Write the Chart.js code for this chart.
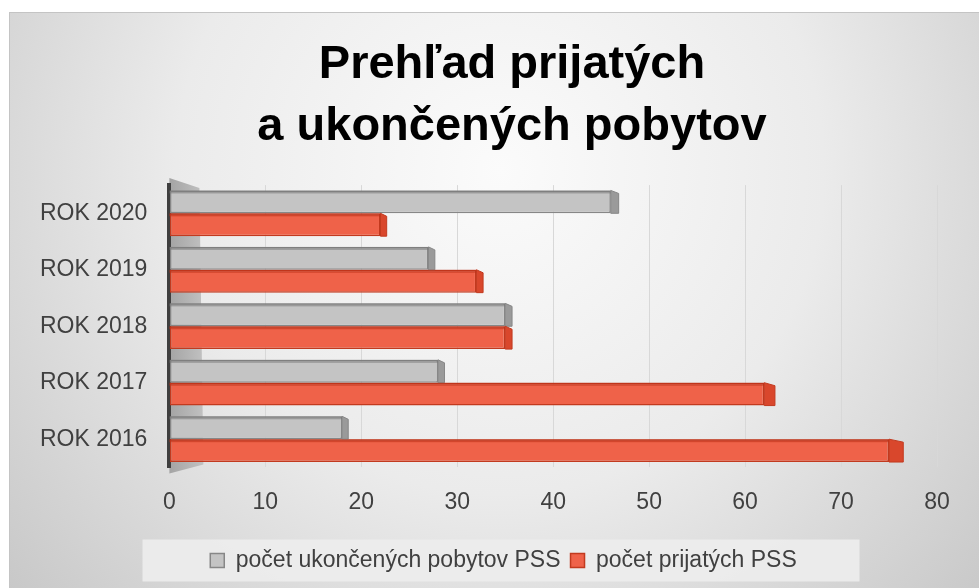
<!DOCTYPE html>
<html><head><meta charset="utf-8">
<script src="https://cdn.jsdelivr.net/npm/chart.js@4/dist/chart.umd.min.js"></script>
<style>html,body{margin:0;padding:0;background:#fff;overflow:hidden}canvas{display:block}</style>
</head><body>
<canvas id="c" width="979" height="588"></canvas>
<script>
const categories = ['ROK 2016', 'ROK 2017', 'ROK 2018', 'ROK 2019', 'ROK 2020'];
const ukoncenePobyty = [18, 28, 35, 27, 46];
const prijatePSS = [75, 62, 35, 32, 22];
const seriesNames = ['počet ukončených pobytov PSS', 'počet prijatých PSS'];
const titleLines = ['Prehľad prijatých', 'a ukončených pobytov'];
const xTickValues = [0, 10, 20, 30, 40, 50, 60, 70, 80];

const FONT = "'Liberation Sans', Arial, sans-serif";

const shiftPlugin = {
  id: 'shift',
  afterLayout(chart) {
    if (chart.titleBlock) { chart.titleBlock.left += 69; }
    if (chart.legend) { chart.legend.left += 52; }
  }
};

const bgPlugin = {
  id: 'bg',
  beforeDraw(chart) {
    const ctx = chart.ctx;
    ctx.save();
    ctx.fillStyle = '#fff';
    ctx.fillRect(0, 0, chart.width, chart.height);
    const g = ctx.createRadialGradient(500, 170, 0, 500, 170, 720);
    g.addColorStop(0, '#fbfbfb');
    g.addColorStop(0.45, '#ebebeb');
    g.addColorStop(1, '#c0c0c0');
    ctx.fillStyle = g;
    ctx.fillRect(9, 12, chart.width - 9, chart.height - 12);
    ctx.strokeStyle = '#c4c4c4';
    ctx.lineWidth = 1;
    ctx.strokeRect(9.5, 12.5, chart.width, chart.height);
    const lg = chart.legend;
    if (lg && lg.legendHitBoxes && lg.legendHitBoxes.length) {
      const hb = lg.legendHitBoxes;
      const last = hb[hb.length - 1];
      const cx = (hb[0].left + last.left + last.width) / 2;
      const cy = hb[0].top + hb[0].height / 2;
      ctx.fillStyle = 'rgba(236,236,236,0.95)';
      ctx.fillRect(cx - 361, cy - 21, 717, 42);
    }
    const a = chart.chartArea;
    const wg = ctx.createLinearGradient(a.left, 0, a.left + 35, 0);
    wg.addColorStop(0, '#a4a4a4');
    wg.addColorStop(1, '#c2c2c2');
    ctx.fillStyle = wg;
    ctx.beginPath();
    ctx.moveTo(a.left, a.top - 7);
    ctx.lineTo(a.left + 30, a.top + 3);
    ctx.lineTo(a.left + 34, a.bottom - 3);
    ctx.lineTo(a.left, a.bottom + 6);
    ctx.closePath();
    ctx.fill();
    ctx.restore();
  }
};

const depthPlugin = {
  id: 'depth',
  afterDatasetsDraw(chart) {
    const ctx = chart.ctx, a = chart.chartArea;
    ctx.save();
    chart.data.datasets.forEach((ds, i) => {
      const meta = chart.getDatasetMeta(i);
      meta.data.forEach(bar => {
        const p = bar.getProps(['x', 'y', 'height'], true);
        const top = p.y - p.height / 2, bot = p.y + p.height / 2;
        const f = (p.x - a.left) / (a.right - a.left);
        const s = 6 + 10 * f * f * f;
        ctx.fillStyle = ds.sideColor;
        ctx.beginPath();
        ctx.moveTo(p.x, top);
        ctx.lineTo(p.x + s, top + 3);
        ctx.lineTo(p.x + s, bot);
        ctx.lineTo(p.x, bot);
        ctx.closePath();
        ctx.fill();
        ctx.strokeStyle = ds.borderColor;
        ctx.lineWidth = 1;
        ctx.stroke();
        ctx.fillStyle = ds.topColor;
        ctx.fillRect(a.left, top, p.x - a.left, 3);
      });
    });
    ctx.restore();
  }
};

new Chart(document.getElementById('c'), {
  type: 'bar',
  data: {
    labels: categories,
    datasets: [
      {
        label: seriesNames[0],
        data: ukoncenePobyty,
        backgroundColor: '#c4c4c4',
        borderColor: '#878787',
        sideColor: '#9a9a9a',
        topColor: 'rgba(120,120,120,0.55)',
        borderWidth: 1.5,
        borderSkipped: false,
        categoryPercentage: 0.81,
        barPercentage: 1.0
      },
      {
        label: seriesNames[1],
        data: prijatePSS,
        backgroundColor: '#ef6249',
        borderColor: '#c23a1f',
        sideColor: '#d9472c',
        topColor: 'rgba(190,50,25,0.6)',
        borderWidth: 1.5,
        borderSkipped: false,
        categoryPercentage: 0.81,
        barPercentage: 1.0
      }
    ]
  },
  options: {
    indexAxis: 'y',
    responsive: false,
    animation: false,
    layout: { padding: { top: 12, left: 18, right: 42, bottom: 6 } },
    plugins: {
      title: {
        display: true,
        text: titleLines,
        color: '#000',
        font: { family: FONT, size: 47, weight: 'bold', lineHeight: 1.32 },
        padding: { top: 22, bottom: 27 }
      },
      legend: {
        display: true,
        position: 'bottom',
        labels: {
          color: '#404040',
          font: { family: FONT, size: 23 },
          boxWidth: 14,
          boxHeight: 14,
          padding: 10
        }
      },
      tooltip: { enabled: false }
    },
    scales: {
      x: {
        min: 0,
        max: 80,
        afterBuildTicks(s) { s.ticks = xTickValues.map(v => ({ value: v })); },
        ticks: { color: '#404040', font: { family: FONT, size: 23 }, padding: 21 },
        grid: { color: '#d8d8d8', drawTicks: false },
        border: { display: false },
        afterFit(s) { s.height += 2; }
      },
      y: {
        reverse: true,
        ticks: { color: '#404040', font: { family: FONT, size: 23 }, padding: 22 },
        grid: { display: false, drawTicks: false },
        border: { display: true, color: '#3f3f3f', width: 4 }
      }
    }
  },
  plugins: [shiftPlugin, bgPlugin, depthPlugin]
});
</script>
</body></html>
